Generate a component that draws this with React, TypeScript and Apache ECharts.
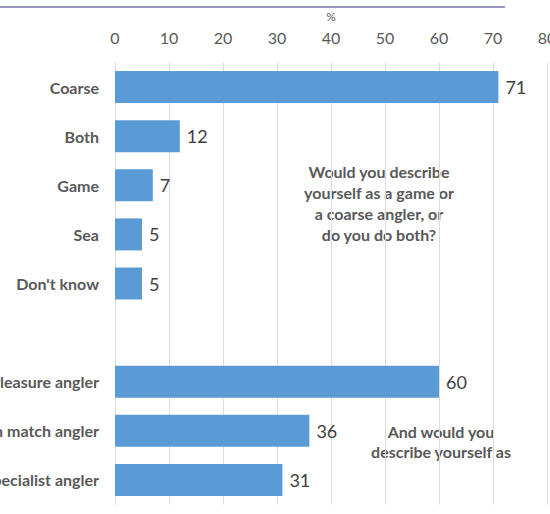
import React, { useEffect, useRef } from "react";
import * as echarts from "echarts";

const categories = [
  "Coarse",
  "Both",
  "Game",
  "Sea",
  "Don't know",
  "",
  "Pleasure angler",
  "Competition match angler",
  "Specialist angler",
];
const values: (number | null)[] = [71, 12, 7, 5, 5, null, 60, 36, 31];
const tickValues = [0, 10, 20, 30, 40, 50, 60, 70, 80];
const question1 = ["Would you describe", "yourself as a game or", "a coarse angler, or", "do you do both?"];
const question2 = ["And would you", "describe yourself as"];

const FONT = "Lato, 'Open Sans', sans-serif";

export default function App() {
  const ref = useRef<HTMLDivElement>(null);
  useEffect(() => {
    if (!ref.current) return;
    const chart = echarts.init(ref.current, null, { renderer: "svg" });
    chart.setOption({
      animation: false,
      backgroundColor: "#ffffff",
      grid: {
        left: 115,
        right: 3,
        top: 62.5,
        bottom: 9.5,
        containLabel: false,
        outerBoundsMode: "none",
      },
      xAxis: {
        type: "value",
        position: "top",
        min: tickValues[0],
        max: tickValues[tickValues.length - 1],
        interval: 10,
        name: "%",
        nameLocation: "middle",
        nameGap: 40,
        nameTextStyle: { color: "#595959", fontSize: 12, fontFamily: FONT },
        axisLine: { show: false },
        axisTick: { show: false },
        axisLabel: { color: "#595959", fontSize: 16, fontFamily: FONT, margin: 17 },
        splitLine: { show: true, lineStyle: { color: "#dcdcdc", width: 1 } },
      },
      yAxis: {
        type: "category",
        inverse: true,
        data: categories,
        axisLine: { show: true, lineStyle: { color: "#dcdcdc" } },
        axisTick: { show: false },
        axisLabel: {
          color: "#595959",
          fontSize: 16,
          fontWeight: "bold",
          fontFamily: FONT,
          margin: 16,
        },
      },
      series: [
        {
          type: "bar",
          data: values,
          barWidth: 32,
          itemStyle: { color: "#5B9BD5" },
          label: {
            show: true,
            position: "right",
            distance: 7,
            color: "#404040",
            fontSize: 18,
            fontFamily: FONT,
          },
        },
      ],
      graphic: [
        {
          type: "line",
          shape: { x1: 0, y1: 7, x2: 505, y2: 7 },
          style: { stroke: "#7474a8", lineWidth: 1.5 },
        },
        {
          type: "text",
          x: 379,
          y: 161,
          style: {
            text: question1.join("\n"),
            textAlign: "center",
            fill: "#595959",
            fontSize: 16,
            fontWeight: "bold",
            fontFamily: FONT,
            lineHeight: 21,
          },
        },
        {
          type: "text",
          x: 441,
          y: 421,
          style: {
            text: question2.join("\n"),
            textAlign: "center",
            fill: "#595959",
            fontSize: 16,
            fontWeight: "bold",
            fontFamily: FONT,
            lineHeight: 20,
          },
        },
      ],
    });
    return () => chart.dispose();
  }, []);
  return (
    <div
      ref={ref}
      style={{ position: "absolute", left: 0, top: 0, width: 550, height: 514 }}
    />
  );
}
